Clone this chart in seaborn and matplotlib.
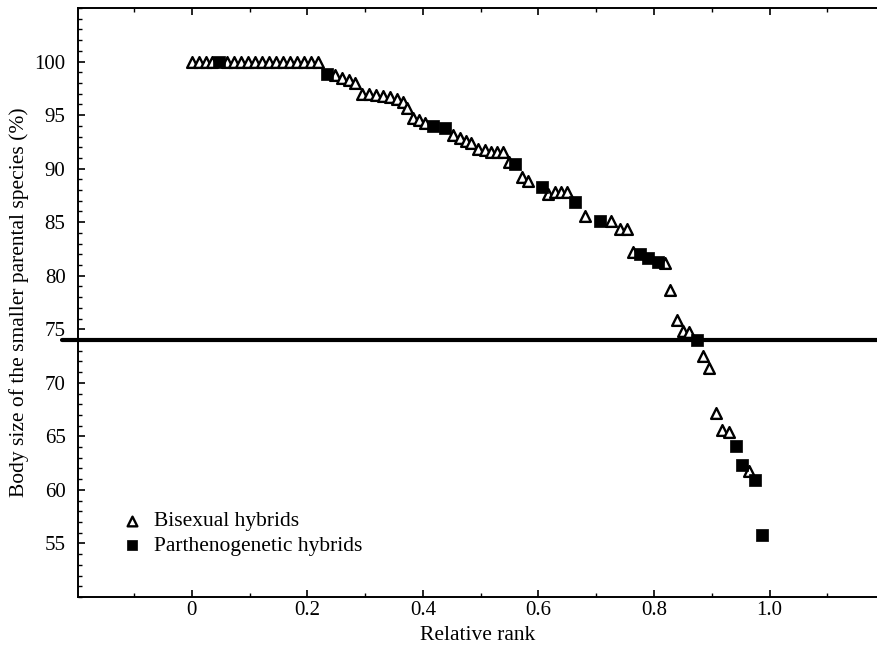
import matplotlib
matplotlib.use("Agg")
import matplotlib.pyplot as plt
from matplotlib.ticker import FixedLocator, MultipleLocator, FuncFormatter
import seaborn as sns
import pandas as pd

# Bisexual hybrids (open triangles)
bi_rank = [0.000, 0.012, 0.024, 0.035, 0.061, 0.073, 0.085, 0.097, 0.109, 0.121,
           0.133, 0.145, 0.158, 0.170, 0.182, 0.194, 0.206, 0.218,
           0.248, 0.260, 0.272, 0.282, 0.294, 0.306, 0.319, 0.331, 0.343, 0.355,
           0.365, 0.372, 0.383, 0.393, 0.403, 0.452, 0.464, 0.474, 0.483, 0.495,
           0.507, 0.518, 0.528, 0.539, 0.549, 0.571, 0.582, 0.616, 0.629, 0.639,
           0.649, 0.681, 0.726, 0.741, 0.753, 0.764, 0.819, 0.828, 0.840, 0.851,
           0.861, 0.885, 0.895, 0.907, 0.918, 0.930, 0.965]
bi_size = [100, 100, 100, 100, 100, 100, 100, 100, 100, 100,
           100, 100, 100, 100, 100, 100, 100, 100,
           98.7, 98.5, 98.3, 98.0, 97.0, 97.0, 96.9, 96.8, 96.7, 96.5,
           96.2, 95.7, 94.7, 94.5, 94.3, 93.1, 92.9, 92.6, 92.4, 91.8,
           91.7, 91.6, 91.6, 91.6, 90.6, 89.2, 88.8, 87.6, 87.8, 87.8,
           87.8, 85.6, 85.1, 84.4, 84.4, 82.2, 81.2, 78.7, 75.9, 74.8,
           74.7, 72.5, 71.4, 67.2, 65.6, 65.4, 61.8]

# Parthenogenetic hybrids (filled squares)
pa_rank = [0.047, 0.234, 0.417, 0.438, 0.559, 0.606, 0.663, 0.707, 0.776,
           0.790, 0.807, 0.874, 0.942, 0.952, 0.975, 0.987]
pa_size = [100, 98.8, 94.0, 93.8, 90.4, 88.3, 86.9, 85.1, 82.0,
           81.7, 81.3, 74.0, 64.1, 62.3, 60.9, 55.8]

threshold = 74.0
series_labels = ["Bisexual hybrids", "Parthenogenetic hybrids"]
x_label = "Relative rank"
y_label = "Body size of the smaller parental species (%)"
y_ticks = [55, 60, 65, 70, 75, 80, 85, 90, 95, 100]

sns.set_theme(style="ticks")
plt.rcParams["font.family"] = ["Liberation Serif", "DejaVu Serif"]
plt.rcParams["text.color"] = "black"
plt.rcParams["axes.labelcolor"] = "black"

bi = pd.DataFrame({"rank": bi_rank, "size": bi_size})
pa = pd.DataFrame({"rank": pa_rank, "size": pa_size})

fig = plt.figure(figsize=(8.77, 6.54), dpi=100)
ax = fig.add_axes([78 / 877, 57 / 654, 799 / 877, 589 / 654])

sns.scatterplot(data=bi, x="rank", y="size", marker="^", s=60,
                facecolor="white", edgecolor="black", linewidth=1.7,
                label=series_labels[0], ax=ax, zorder=3)
sns.scatterplot(data=pa, x="rank", y="size", marker="s", s=75,
                color="black", edgecolor="black", linewidth=0.5,
                label=series_labels[1], ax=ax, zorder=4)

ax.axhline(threshold, xmin=-0.02, xmax=1.0, color="black", lw=3,
           clip_on=False, zorder=2)

ax.set_xlim(-0.197, 1.186)
ax.set_ylim(50, 105)

ax.xaxis.set_major_locator(MultipleLocator(0.2))
ax.xaxis.set_minor_locator(MultipleLocator(0.1))
ax.xaxis.set_major_formatter(FuncFormatter(lambda v, p: "0" if abs(v) < 1e-9 else f"{v:.1f}"))
ax.yaxis.set_major_locator(FixedLocator(y_ticks))
ax.yaxis.set_minor_locator(MultipleLocator(1))

ax.tick_params(axis="both", which="both", direction="in", top=True,
               right=False, colors="black", labelsize=15)
ax.tick_params(axis="x", which="major", length=5, width=1.2, pad=3)
ax.tick_params(axis="y", which="major", length=5, width=1.2, pad=9)
ax.tick_params(axis="both", which="minor", length=3, width=1.0)

for side in ["left", "bottom", "top"]:
    ax.spines[side].set_linewidth(1.4)
    ax.spines[side].set_color("black")
ax.spines["right"].set_visible(False)

ax.set_xlabel(x_label, fontsize=15.5, color="black", labelpad=4)
ax.set_ylabel(y_label, fontsize=15.5, color="black", labelpad=4)

ax.legend(loc="upper left", bbox_to_anchor=(0.03, 0.16), frameon=False,
          fontsize=15.5, handletextpad=0.0, labelspacing=0.2, borderaxespad=0,
          markerscale=0.9, labelcolor="black")

fig.savefig("out.png", dpi=100)
